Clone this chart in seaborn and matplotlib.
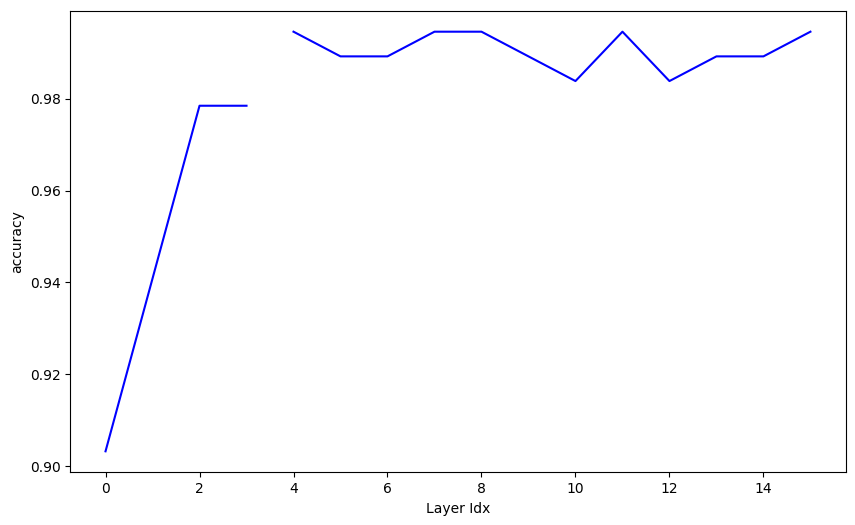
import numpy as np
import pandas as pd
import seaborn as sns
import matplotlib
matplotlib.use('Agg')
import matplotlib.pyplot as plt

# accuracy per layer (correct out of 186)
layer_idx = list(range(16))
correct = [168, 175, 182, 182, 185, 184, 184, 185, 185, 184, 183, 185, 183, 184, 184, 185]
total = 186
# the line breaks between layer 3 and layer 4
segment = [0, 0, 0, 0, 1, 1, 1, 1, 1, 1, 1, 1, 1, 1, 1, 1]

df = pd.DataFrame({'layer': layer_idx,
                   'accuracy': np.array(correct) / total,
                   'segment': segment})

fig = plt.figure(figsize=(8.55, 5.25), dpi=100)
ax = fig.add_axes([0.0822, 0.1004, 0.9891 - 0.0822, 0.9796 - 0.1004])
sns.lineplot(data=df, x='layer', y='accuracy', units='segment', estimator=None,
             color='blue', linewidth=1.5, ax=ax)
ax.set_xlabel('Layer Idx')
ax.set_ylabel('accuracy')
fig.savefig('out.png', dpi=100)
